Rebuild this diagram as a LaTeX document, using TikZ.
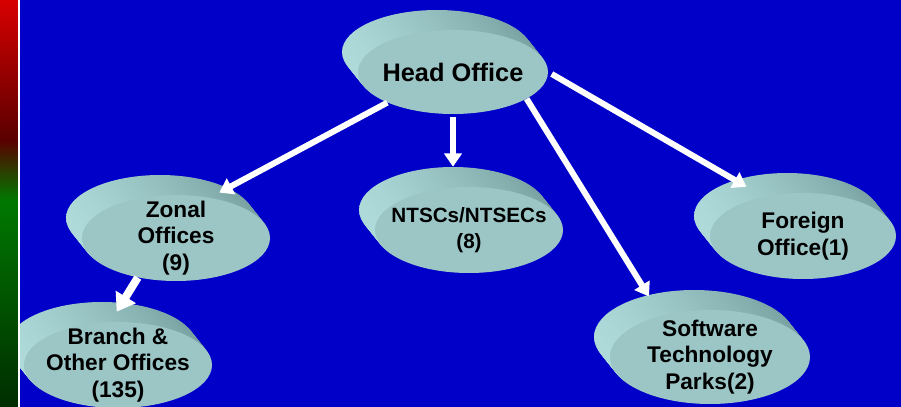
\documentclass[tikz,border=0pt]{standalone}
\usepackage{fontspec}
\setmainfont{Liberation Sans}
\usetikzlibrary{shapes.geometric,arrows.meta,calc}

\begin{document}
\begin{tikzpicture}[x=0.75pt,y=-0.75pt,
  office/.style={ellipse,fill=face,inner sep=0pt},
  link/.style={white,line width=4.5pt,-{Triangle[length=10pt,width=13pt]}}]
\definecolor{bgblue}{RGB}{0,0,200}
\definecolor{face}{RGB}{156,198,198}
\definecolor{side}{RGB}{118,158,158}
\definecolor{edge}{RGB}{174,218,218}
\definecolor{stripred}{RGB}{215,0,0}
\definecolor{stripdark}{RGB}{90,0,0}
\definecolor{stripgreen}{RGB}{0,120,0}
\definecolor{stripdeep}{RGB}{0,45,0}
\useasboundingbox (0,0) rectangle (901,407);
\fill[bgblue] (0,0) rectangle (901,407);
  \foreach \nm/\px/\py/\rx/\ry/\fs/\txt in {head/453/72/95/42/19/{Head Office},
    zonal/176/238/94/43/17/{Zonal\\Offices\\(9)},
    ntsc/469/230/94/43/15.5/{NTSCs/NTSECs\\(8)},
    foreign/803/236/93/43/17/{Foreign\\Office(1)},
    branch/118/365/94/43/17/{Branch \&\\Other Offices\\(135)},
    soft/710/357/100/47/17/{Software\\Technology\\Parks(2)}}
  { \foreach \k in {16,...,1}
      \shade[left color=edge,right color=side] ($(\px,\py)+(-\k,-1.25*\k)$) ellipse ({\rx} and {\ry});
    \node[office,minimum width=1.5pt*\rx,minimum height=1.5pt*\ry,
      label={[align=center,font=\bfseries\fontsize{\fs}{20}\selectfont]center:\txt}] (\nm) at (\px,\py) {};}
\shade[top color=stripred,bottom color=stripdark] (0,0) rectangle (18,140);
\shade[top color=stripdark,bottom color=stripgreen] (0,140) rectangle (18,200);
\shade[top color=stripgreen,bottom color=stripdeep] (0,200) rectangle (18,407);
\draw[white,line width=1pt] (19,0) -- (19,407);
\draw[link,shorten >=8pt] (head.205) -- (zonal.50);
\draw[link,shorten >=15pt,shorten <=2pt] (head.south) -- (head.south |- ntsc.north);
\draw[link,shorten >=17pt] (head.340) -- (soft.140);
\draw[link,shorten >=15pt,shorten <=3pt] (head.east) -- (foreign.135);
\draw[link,line width=6pt,-{Triangle[length=13pt,width=17pt]},shorten >=9pt] (zonal.226) -- (branch.100);
\end{tikzpicture}
\end{document}
